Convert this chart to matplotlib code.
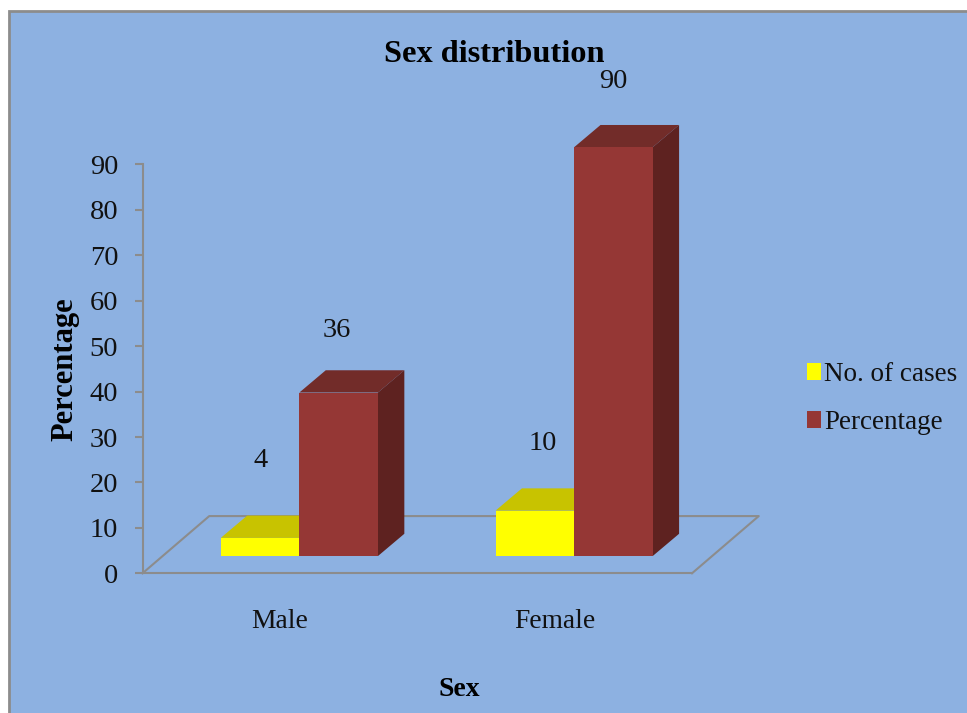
#!/usr/bin/env python3
"""Sex distribution: 3D-look clustered bars with a floor, drawn on a 2D axes."""

import matplotlib

matplotlib.use("Agg")
import matplotlib.pyplot as plt
from matplotlib.patches import Patch, Polygon, Rectangle

categories = ["Male", "Female"]
cases = [4, 10]
percentage = [36, 90]
y_ticks = [0, 10, 20, 30, 40, 50, 60, 70, 80, 90]

WIDTH, HEIGHT = 967, 713
BG = "#8db1e1"
GREY = "#8c8c8c"
YELLOW, YELLOW_TOP = "#ffff00", "#c8c300"
RED, RED_TOP, RED_SIDE = "#953735", "#722c29", "#5e2220"

# depth of the fake 3D projection, in x units and y units
BAR_WIDTH = 0.286
BAR_SHIFT = 0.071
BAR_LIFT = 3.8
DEPTH_X = 0.096
DEPTH_Y = 4.9
FLOOR_X = 0.243
FLOOR_Y = 12.6

# value label offsets from the top centre of each front face, in points
CASE_LABEL_OFFSETS = [(0.5, 56), (6, 48)]
PCT_LABEL_OFFSETS = [(-1, 45), (0, 47.5)]

plt.rcParams["font.family"] = ["Liberation Serif", "DejaVu Serif"]


def draw_bar(ax, left, value, front, top, side=None):
    right = left + BAR_WIDTH
    y0 = BAR_LIFT
    y1 = BAR_LIFT + value
    ax.bar(left, value, BAR_WIDTH, bottom=y0, align="edge", color=front, zorder=3, clip_on=False)
    ax.add_patch(Polygon(
        [(left, y1), (right, y1), (right + DEPTH_X, y1 + DEPTH_Y), (left + DEPTH_X, y1 + DEPTH_Y)],
        color=top, lw=0, clip_on=False, zorder=2,
    ))
    if side is not None:
        ax.add_patch(Polygon(
            [(right, y0), (right + DEPTH_X, y0 + DEPTH_Y), (right + DEPTH_X, y1 + DEPTH_Y), (right, y1)],
            color=side, lw=0, clip_on=False, zorder=2,
        ))


def label_bar(ax, x, value, offset):
    ax.annotate(str(value), (x, BAR_LIFT + value), xytext=offset, textcoords="offset points",
                ha="center", va="center", fontsize=20.5, color="#111111", annotation_clip=False)


fig = plt.figure(figsize=(WIDTH / 100, HEIGHT / 100), dpi=100, facecolor="white")

# panel behind the chart, open towards the lower right of the page
fig.add_artist(Rectangle(
    (9 / WIDTH, -0.01), 1.0, 1 - 10.5 / HEIGHT + 0.01,
    transform=fig.transFigure, facecolor=BG, edgecolor=GREY, lw=2, zorder=-1,
))

ax = fig.add_axes([142.5 / WIDTH, 1 - 573.3 / HEIGHT, 549.5 / WIDTH, 408.8 / HEIGHT])
ax.patch.set_visible(False)
ax.set_xlim(-0.5, 1.5)
ax.set_ylim(0, 90)

for name in ["top", "right"]:
    ax.spines[name].set_visible(False)
for name in ["left", "bottom"]:
    ax.spines[name].set_color(GREY)
    ax.spines[name].set_linewidth(1.5)

ax.set_yticks(y_ticks)
ax.tick_params(axis="y", length=6, width=1.5, color=GREY, labelsize=20.5, pad=11.5, labelcolor="#111111")
ax.set_xticks(range(len(categories)), categories)
ax.tick_params(axis="x", length=0, labelsize=19.8, pad=26, labelcolor="#111111")

# floor outline, starting from the axis corner
ax.plot(
    [-0.5, -0.5 + FLOOR_X, 1.5 + FLOOR_X, 1.5],
    [0, FLOOR_Y, FLOOR_Y, 0],
    color=GREY, lw=1.5, clip_on=False, zorder=1,
)

for i, (n_cases, pct) in enumerate(zip(cases, percentage)):
    center = i + BAR_SHIFT
    draw_bar(ax, center - BAR_WIDTH, n_cases, YELLOW, YELLOW_TOP)
    draw_bar(ax, center, pct, RED, RED_TOP, RED_SIDE)
    label_bar(ax, center - BAR_WIDTH / 2, n_cases, CASE_LABEL_OFFSETS[i])
    label_bar(ax, center + BAR_WIDTH / 2, pct, PCT_LABEL_OFFSETS[i])

fig.text(494 / WIDTH, 1 - 54 / HEIGHT, "Sex distribution", ha="center", va="center",
         fontsize=23.3, fontweight="bold", color="black")
fig.text(459 / WIDTH, 1 - 689 / HEIGHT, "Sex", ha="center", va="center",
         fontsize=20, fontweight="bold", color="black")
fig.text(65 / WIDTH, 1 - 369 / HEIGHT, "Percentage", ha="center", va="center", rotation=90,
         fontsize=22, fontweight="bold", color="black")

handles = [Patch(facecolor=YELLOW, label="No. of cases"), Patch(facecolor=RED, label="Percentage")]
fig.legend(
    handles=handles, loc="upper left", bbox_to_anchor=(801.5 / WIDTH, 1 - 357 / HEIGHT),
    frameon=False, fontsize=19.5, handlelength=0.52, handleheight=0.6, handletextpad=0.12,
    labelspacing=0.85, borderpad=0.2, borderaxespad=0, labelcolor="#111111",
)

fig.savefig("out.png", dpi=100)
plt.close(fig)
